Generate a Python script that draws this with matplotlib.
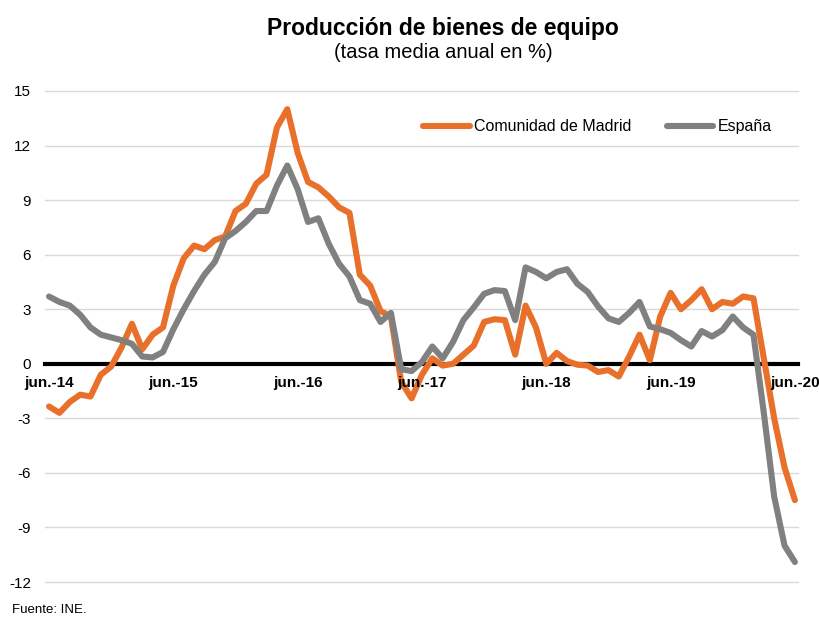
import numpy as np
import matplotlib
matplotlib.use("Agg")
import matplotlib.pyplot as plt

plt.rcParams['font.family'] = ['Liberation Sans', 'DejaVu Sans']

# monthly series, jun-14 .. jun-20
madrid = [-2.35, -2.7, -2.1, -1.7, -1.8, -0.6, -0.15, 0.9, 2.2, 0.8, 1.6, 2.0,
          4.3, 5.8, 6.5, 6.3, 6.8, 7.0, 8.4, 8.8, 9.9, 10.4, 13.0, 14.0,
          11.6, 10.0, 9.7, 9.2, 8.6, 8.3, 4.9, 4.3, 2.9, 2.6, -1.0, -1.9,
          -0.6, 0.3, -0.1, 0.0, 0.5, 1.0, 2.3, 2.45, 2.4, 0.5, 3.2, 2.0,
          0.0, 0.6, 0.15, -0.05, -0.1, -0.45, -0.35, -0.7, 0.4, 1.6, 0.2, 2.6,
          3.9, 3.0, 3.5, 4.1, 3.0, 3.4, 3.3, 3.7, 3.6, 0.3, -3.0, -5.7,
          -7.5]
espana = [3.7, 3.4, 3.2, 2.7, 2.0, 1.6, 1.45, 1.3, 1.1, 0.4, 0.35, 0.65,
          1.9, 3.0, 4.0, 4.9, 5.6, 6.9, 7.3, 7.8, 8.4, 8.4, 9.8, 10.9,
          9.6, 7.8, 8.0, 6.6, 5.5, 4.8, 3.5, 3.3, 2.3, 2.8, -0.3, -0.4,
          0.1, 0.95, 0.3, 1.2, 2.4, 3.1, 3.85, 4.05, 4.0, 2.4, 5.3, 5.05,
          4.7, 5.05, 5.2, 4.4, 3.95, 3.15, 2.5, 2.3, 2.8, 3.4, 2.05, 1.9,
          1.7, 1.3, 0.95, 1.8, 1.5, 1.85, 2.6, 2.0, 1.6, -2.7, -7.3, -10.0,
          -10.9]
months = np.arange(len(madrid))
tick_pos = [0, 12, 24, 36, 48, 60, 72]
tick_labels = ['jun.-14', 'jun.-15', 'jun.-16', 'jun.-17', 'jun.-18', 'jun.-19', 'jun.-20']
y_ticks = [-12, -9, -6, -3, 0, 3, 6, 9, 12, 15]

orange = '#E8702A'
grey = '#808080'

fig = plt.figure(figsize=(8.2, 6.19), dpi=100)
ax = fig.add_axes([45/820, 1-582/619, 753/820, 491/619])

ax.plot(months, madrid, color=orange, lw=4.4, solid_joinstyle='round',
        solid_capstyle='round', zorder=3, label='Comunidad de Madrid')
ax.plot(months, espana, color=grey, lw=4.4, solid_joinstyle='round',
        solid_capstyle='round', zorder=3, label='España')

ax.set_ylim(-12, 15)
ax.set_xlim(-0.39, 72.3)
ax.set_yticks(y_ticks)
ax.set_yticklabels([str(v) for v in y_ticks], fontsize=11)
ax.yaxis.grid(True, color='#D9D9D9', lw=1)
for gl in ax.get_ygridlines():
    gl.set_clip_on(False)
ax.set_axisbelow(True)

for s in ['top', 'right', 'left']:
    ax.spines[s].set_visible(False)
ax.spines['bottom'].set_position(('data', 0))
ax.spines['bottom'].set_color('black')
ax.spines['bottom'].set_linewidth(3)
ax.spines['bottom'].set_zorder(2.5)

ax.set_xticks(tick_pos)
ax.set_xticklabels(tick_labels, fontsize=11, fontweight='bold')
ax.tick_params(axis='x', length=0, pad=9)
ax.tick_params(axis='y', length=0, pad=10)
ax.xaxis.set_zorder(4)

leg = ax.legend(loc='center', bbox_to_anchor=(0.734, 0.927), ncol=2, frameon=False,
                fontsize=11.5, handlelength=2.9, handletextpad=0.3, columnspacing=2.2)

fig.text(443/820, 1-28/619, 'Producción de bienes de equipo', ha='center', va='center',
         fontsize=16.5, fontweight='bold')
fig.text(443/820, 1-52/619, '(tasa media anual en %)', ha='center', va='center', fontsize=14.5)
fig.text(12/820, 1-610/619, 'Fuente: INE.', ha='left', va='center', fontsize=9.5)

fig.savefig('out.png', dpi=100)
